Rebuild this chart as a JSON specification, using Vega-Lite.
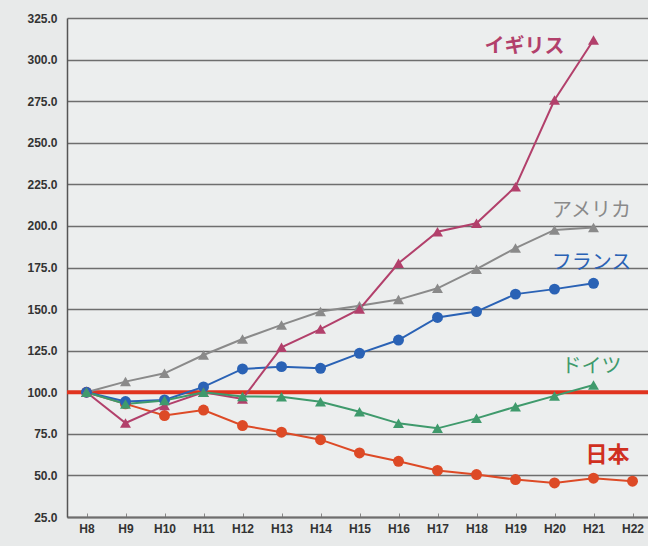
{
  "$schema": "https://vega.github.io/schema/vega-lite/v6.json",
  "autosize": "none",
  "padding": {"left": 67, "top": 18, "right": 0, "bottom": 29},
  "width": 585,
  "height": 499,
  "background": "#e8eaea",
  "config": {
    "view": {"stroke": null, "fill": "#eceeee"},
    "font": "Liberation Sans",
    "axisX": {
      "title": null, "labelAngle": 0, "labelFontWeight": "bold", "labelFontSize": 12,
      "labelColor": "#333", "domainColor": "#6e6e6e", "domainWidth": 2,
      "tickColor": "#888", "tickSize": -4, "labelPadding": 10, "grid": false
    },
    "axisY": {
      "title": null, "format": ".1f", "labelFontWeight": "bold", "labelFontSize": 12, "labelColor": "#333",
      "grid": true, "gridColor": "#6e6e6e", "gridWidth": 1.5,
      "domainColor": "#555", "domainWidth": 1.5, "ticks": false, "labelPadding": 10
    }
  },
  "datasets": {
    "series": [
      {"year": "H8", "country": "日本", "value": 100},
      {"year": "H9", "country": "日本", "value": 93},
      {"year": "H10", "country": "日本", "value": 86},
      {"year": "H11", "country": "日本", "value": 89.3},
      {"year": "H12", "country": "日本", "value": 80},
      {"year": "H13", "country": "日本", "value": 76},
      {"year": "H14", "country": "日本", "value": 71.5},
      {"year": "H15", "country": "日本", "value": 63.5},
      {"year": "H16", "country": "日本", "value": 58.5},
      {"year": "H17", "country": "日本", "value": 53},
      {"year": "H18", "country": "日本", "value": 50.5},
      {"year": "H19", "country": "日本", "value": 47.5},
      {"year": "H20", "country": "日本", "value": 45.5},
      {"year": "H21", "country": "日本", "value": 48.3},
      {"year": "H22", "country": "日本", "value": 46.5},
      {"year": "H8", "country": "フランス", "value": 100},
      {"year": "H9", "country": "フランス", "value": 94.4},
      {"year": "H10", "country": "フランス", "value": 95.4},
      {"year": "H11", "country": "フランス", "value": 103.2},
      {"year": "H12", "country": "フランス", "value": 114},
      {"year": "H13", "country": "フランス", "value": 115.4},
      {"year": "H14", "country": "フランス", "value": 114.4},
      {"year": "H15", "country": "フランス", "value": 123.4},
      {"year": "H16", "country": "フランス", "value": 131.4},
      {"year": "H17", "country": "フランス", "value": 145},
      {"year": "H18", "country": "フランス", "value": 148.5},
      {"year": "H19", "country": "フランス", "value": 159},
      {"year": "H20", "country": "フランス", "value": 162},
      {"year": "H21", "country": "フランス", "value": 165.5},
      {"year": "H8", "country": "アメリカ", "value": 100},
      {"year": "H9", "country": "アメリカ", "value": 106.4},
      {"year": "H10", "country": "アメリカ", "value": 111.4},
      {"year": "H11", "country": "アメリカ", "value": 122.4},
      {"year": "H12", "country": "アメリカ", "value": 132},
      {"year": "H13", "country": "アメリカ", "value": 140.5},
      {"year": "H14", "country": "アメリカ", "value": 148.5},
      {"year": "H15", "country": "アメリカ", "value": 152},
      {"year": "H16", "country": "アメリカ", "value": 155.7},
      {"year": "H17", "country": "アメリカ", "value": 162.5},
      {"year": "H18", "country": "アメリカ", "value": 174},
      {"year": "H19", "country": "アメリカ", "value": 186.7},
      {"year": "H20", "country": "アメリカ", "value": 197.6},
      {"year": "H21", "country": "アメリカ", "value": 199},
      {"year": "H8", "country": "イギリス", "value": 100},
      {"year": "H9", "country": "イギリス", "value": 81.5},
      {"year": "H10", "country": "イギリス", "value": 92},
      {"year": "H11", "country": "イギリス", "value": 100},
      {"year": "H12", "country": "イギリス", "value": 96},
      {"year": "H13", "country": "イギリス", "value": 127},
      {"year": "H14", "country": "イギリス", "value": 138},
      {"year": "H15", "country": "イギリス", "value": 150},
      {"year": "H16", "country": "イギリス", "value": 177.5},
      {"year": "H17", "country": "イギリス", "value": 196.5},
      {"year": "H18", "country": "イギリス", "value": 201.6},
      {"year": "H19", "country": "イギリス", "value": 223.6},
      {"year": "H20", "country": "イギリス", "value": 275.7},
      {"year": "H21", "country": "イギリス", "value": 311.8},
      {"year": "H8", "country": "ドイツ", "value": 100},
      {"year": "H9", "country": "ドイツ", "value": 93},
      {"year": "H10", "country": "ドイツ", "value": 95},
      {"year": "H11", "country": "ドイツ", "value": 100},
      {"year": "H12", "country": "ドイツ", "value": 97.5},
      {"year": "H13", "country": "ドイツ", "value": 97.3},
      {"year": "H14", "country": "ドイツ", "value": 94.3},
      {"year": "H15", "country": "ドイツ", "value": 88.3},
      {"year": "H16", "country": "ドイツ", "value": 81.3},
      {"year": "H17", "country": "ドイツ", "value": 78.3},
      {"year": "H18", "country": "ドイツ", "value": 84.3},
      {"year": "H19", "country": "ドイツ", "value": 91.3},
      {"year": "H20", "country": "ドイツ", "value": 97.8},
      {"year": "H21", "country": "ドイツ", "value": 104.4}
    ],
    "labels": [
      {"label": "イギリス", "year": "H19", "value": 307.5, "country": "イギリス"},
      {"label": "アメリカ", "year": "H21", "value": 209, "country": "アメリカ"},
      {"label": "フランス", "year": "H21", "value": 178, "country": "フランス"},
      {"label": "ドイツ", "year": "H21", "value": 115, "country": "ドイツ"},
      {"label": "日本", "year": "H21", "value": 62, "country": "日本"}
    ],
    "base": [{"value": 100}]
  },
  "layer": [
    {
      "data": {"name": "base"},
      "mark": {"type": "rule", "color": "#e0341f", "strokeWidth": 4},
      "encoding": {
        "y": {"field": "value", "type": "quantitative", "scale": {"domain": [25, 325], "nice": false, "zero": false},
          "axis": {"values": [25, 50, 75, 100, 125, 150, 175, 200, 225, 250, 275, 300, 325]}}
      }
    },
    {
      "data": {"name": "series"},
      "mark": {"type": "line", "strokeWidth": 2},
      "encoding": {
        "x": {"field": "year", "type": "ordinal",
          "scale": {"type": "point", "padding": 0.5,
            "domain": ["H8", "H9", "H10", "H11", "H12", "H13", "H14", "H15", "H16", "H17", "H18", "H19", "H20", "H21", "H22"]}},
        "y": {"field": "value", "type": "quantitative"},
        "color": {"field": "country", "type": "nominal", "legend": null,
          "scale": {
            "domain": ["日本", "フランス", "アメリカ", "イギリス", "ドイツ"],
            "range": ["#dd4a26", "#2a62b5", "#8a8a8a", "#b2406b", "#3f9a6c"]
          }}
      }
    },
    {
      "data": {"name": "series"},
      "mark": {"type": "point", "filled": true, "opacity": 1},
      "encoding": {
        "x": {"field": "year", "type": "ordinal"},
        "y": {"field": "value", "type": "quantitative"},
        "color": {"field": "country", "type": "nominal", "legend": null},
        "shape": {
          "field": "country", "type": "nominal", "legend": null,
          "scale": {
            "domain": ["日本", "フランス", "アメリカ", "イギリス", "ドイツ"],
            "range": ["circle", "circle", "triangle-up", "triangle-up", "triangle-up"]
          }
        },
        "size": {
          "field": "country", "type": "nominal", "legend": null,
          "scale": {
            "domain": ["日本", "フランス", "アメリカ", "イギリス", "ドイツ"],
            "range": [120, 120, 25, 70, 70]
          }
        }
      }
    },
    {
      "data": {"name": "labels"},
      "transform": [{"filter": "datum.country === 'アメリカ' || datum.country === 'フランス' || datum.country === 'ドイツ'"}],
      "mark": {"type": "text", "fontSize": 20, "font": "Noto Sans CJK JP", "align": "center", "baseline": "middle", "dx": -2},
      "encoding": {
        "x": {"field": "year", "type": "ordinal"},
        "y": {"field": "value", "type": "quantitative"},
        "text": {"field": "label"},
        "color": {"field": "country", "type": "nominal", "legend": null}
      }
    },
    {
      "data": {"name": "labels"},
      "transform": [{"filter": "datum.country === 'イギリス'"}],
      "mark": {"type": "text", "fontSize": 20, "font": "Noto Sans CJK JP", "fontWeight": "bold", "align": "center", "baseline": "middle", "dx": 9},
      "encoding": {
        "x": {"field": "year", "type": "ordinal"},
        "y": {"field": "value", "type": "quantitative"},
        "text": {"field": "label"},
        "color": {"field": "country", "type": "nominal", "legend": null}
      }
    },
    {
      "data": {"name": "labels"},
      "transform": [{"filter": "datum.country === '日本'"}],
      "mark": {"type": "text", "fontSize": 22, "font": "Noto Sans CJK JP", "fontWeight": "bold", "align": "center", "baseline": "middle", "dx": 14, "color": "#d0301f"},
      "encoding": {
        "x": {"field": "year", "type": "ordinal"},
        "y": {"field": "value", "type": "quantitative"},
        "text": {"field": "label"}
      }
    }
  ]
}
